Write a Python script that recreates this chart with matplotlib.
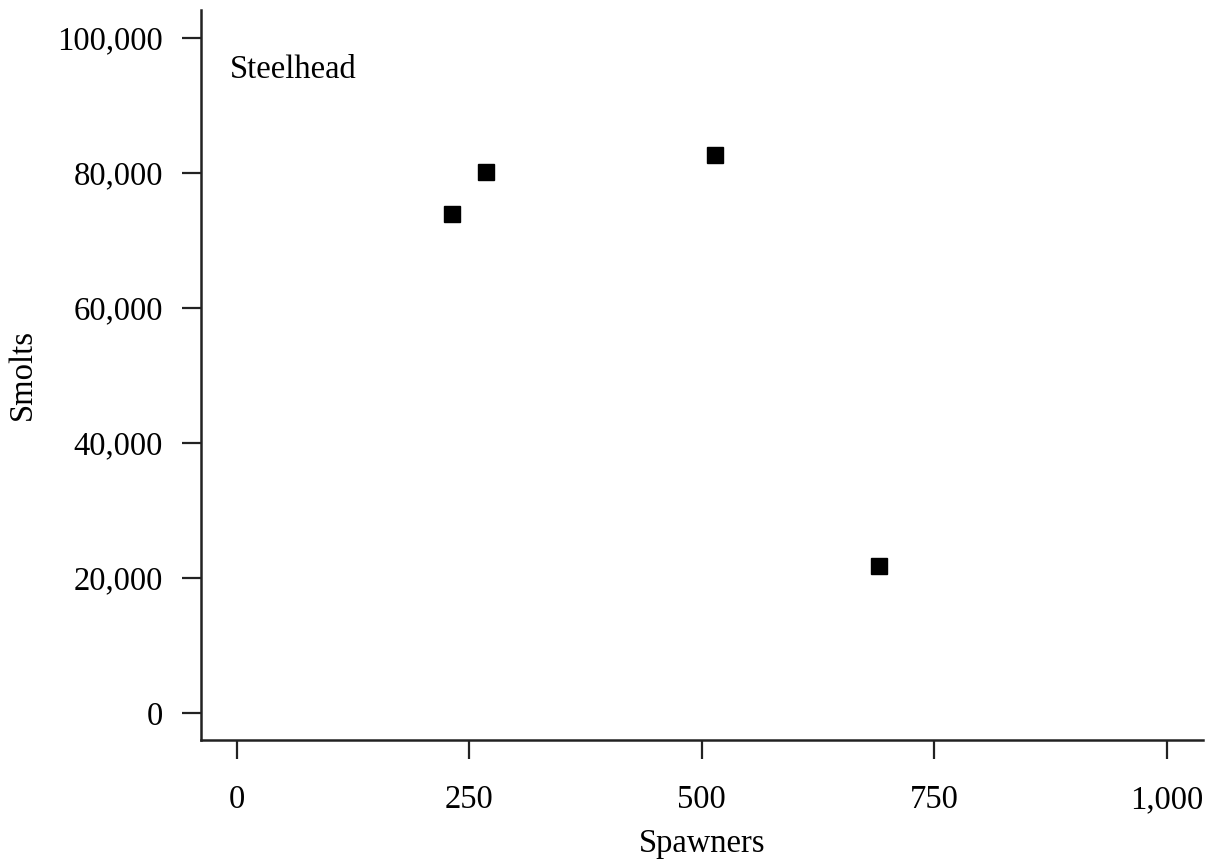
import matplotlib.pyplot as plt
from matplotlib.ticker import FuncFormatter

# === DATA ===
spawners = [231, 268, 514, 690]
smolts = [73900, 80150, 82650, 21800]

x_ticks = [0, 250, 500, 750, 1000]
y_ticks = [0, 20000, 40000, 60000, 80000, 100000]

# === PLOT ===
plt.rcParams['font.family'] = ['Liberation Serif', 'DejaVu Serif']

fig = plt.figure(figsize=(12.07, 8.59), dpi=100)
ax = fig.add_axes([0.1663, 0.1385, 0.8304, 0.8499])

ax.plot(spawners, smolts, linestyle='none', marker='s', markersize=12,
        color='black')

ax.set_xlim(-39, 1039)
ax.set_ylim(-4000, 104150)
ax.set_xticks(x_ticks)
ax.set_yticks(y_ticks)
comma = FuncFormatter(lambda v, p: f"{int(v):,}")
ax.xaxis.set_major_formatter(comma)
ax.yaxis.set_major_formatter(comma)

for side in ['top', 'right']:
    ax.spines[side].set_visible(False)
for side in ['left', 'bottom']:
    ax.spines[side].set_linewidth(1.8)
    ax.spines[side].set_color('#222222')

fs = 23.5
ax.tick_params(axis='x', length=14, width=1.6, pad=18, labelsize=fs, colors='#222222')
ax.tick_params(axis='y', length=14, width=1.6, pad=13, labelsize=fs, colors='#222222')
ax.tick_params(labelcolor='black')

ax.set_xlabel("Spawners", fontsize=fs, labelpad=10)
ax.set_ylabel("Smolts", fontsize=fs, labelpad=14)

ax.text(0.029, 0.907, "Steelhead", transform=ax.transAxes, fontsize=fs,
        va='baseline', ha='left')

plt.savefig("out.png", dpi=100)
